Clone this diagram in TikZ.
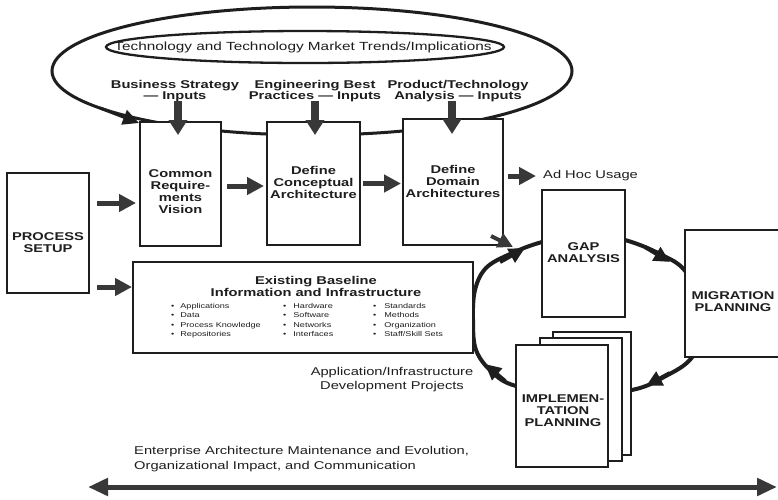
\documentclass[tikz,border=0pt]{standalone}
\usepackage{fontspec}
\setmainfont{Liberation Sans}[FakeStretch=1.3]
\usetikzlibrary{arrows.meta,calc}
\definecolor{ink}{HTML}{1E1E1E}
\definecolor{arrc}{HTML}{383838}
\begin{document}
\begin{tikzpicture}[x=1pt,y=-1pt,
 box/.style={draw=ink,line width=1.8pt,fill=white,inner sep=0pt,outer sep=0pt,anchor=north west},
 pagebox/.style={draw=ink,line width=1.4pt,fill=white,inner sep=0pt,outer sep=0pt,anchor=north west},
 lbl/.style={text=ink,font=\bfseries\fontsize{11.3}{12}\selectfont,align=center,inner sep=0pt},
 inp/.style={text=ink,font=\bfseries\fontsize{11.3}{11.2}\selectfont,align=center,inner sep=0pt},
 txt/.style={text=ink,font=\fontsize{11.3}{14}\selectfont,align=center,inner sep=0pt},
 items/.style={text=ink,font=\fontsize{7}{9.5}\selectfont,align=left,inner sep=0pt,anchor=north west},
 fat/.style={draw=arrc,line width=5pt,-{Triangle[length=17pt,width=17pt]}},
 fatv/.style={draw=arrc,line width=8pt,-{Triangle[length=15pt,width=18pt]}},
 ring/.style={draw=ink,line width=4pt},
 ringtip/.style={draw=ink,line width=4pt,-{Triangle[length=16pt,width=15pt]}},
 dbl/.style={draw=arrc,line width=5pt,{Triangle[length=20pt,width=17pt]}-{Triangle[length=20pt,width=17pt]}},
]
\useasboundingbox (0,0) rectangle (778,499);
\clip (0,0) rectangle (778,499);
\fill[white] (0,0) rectangle (778,499);

% big ellipse and inner ellipse
\draw[draw=ink,line width=3pt] (312,71) ellipse [x radius=260pt, y radius=64pt];
\draw[draw=ink,line width=2.3pt] (305,47) ellipse [x radius=199pt, y radius=16pt];
\node[txt,font=\fontsize{11.8}{13}\selectfont] (trends) at (303,47) {Technology and Technology Market Trends/Implications};

% cycle ring
\draw[ring] plot[smooth cycle, tension=0.6] coordinates {(542,242) (510,254) (486,268) (475,290) (473,320) (476,350) (492,372) (516,386) (575,396) (632,390) (664,377) (693,356) (706,315) (686,272) (660,254) (625,240) (585,233)};

% boxes
\node[box,minimum width=82pt,minimum height=120pt] (setup) at (7,173) {};
\node[lbl] (setupt) at (48,243) {PROCESS\\SETUP};
\node[box,minimum width=81pt,minimum height=124pt] (common) at (140,122) {};
\node[lbl] (commont) at (180.5,192) {Common\\Require-\\ments\\Vision};
\node[box,minimum width=93pt,minimum height=123pt] (concept) at (267,122) {};
\node[lbl] (conceptt) at (313.5,182) {Define\\Conceptual\\Architecture};
\node[box,minimum width=100pt,minimum height=126pt] (domain) at (403,119) {};
\node[lbl] (domaint) at (453,181) {Define\\Domain\\Architectures};

\node[box,minimum width=340pt,minimum height=91pt] (base) at (133,262) {};
\node[lbl] (baset) at (316,286) {Existing Baseline\\Information and Infrastructure};
\node[items] (col1) at (171,303) {•\hspace{6pt}Applications\\•\hspace{6pt}Data\\•\hspace{6pt}Process Knowledge\\•\hspace{6pt}Repositories};
\node[items] (col2) at (283,303) {•\hspace{7pt}Hardware\\•\hspace{7pt}Software\\•\hspace{7pt}Networks\\•\hspace{7pt}Interfaces};
\node[items] (col3) at (373,303) {•\hspace{8pt}Standards\\•\hspace{8pt}Methods\\•\hspace{8pt}Organization\\•\hspace{8pt}Staff/Skill Sets};

\node[box,minimum width=83pt,minimum height=127pt] (gap) at (542,190) {};
\node[lbl] (gapt) at (583.5,253) {GAP\\ANALYSIS};
\node[box,minimum width=120pt,minimum height=127pt] (migr) at (685,230) {};
\node[lbl] (migrt) at (733,302) {MIGRATION\\PLANNING};
\node[pagebox,minimum width=78pt,minimum height=123pt] (impl3) at (553,332) {};
\node[pagebox,minimum width=82pt,minimum height=123pt] (impl2) at (540,338) {};
\node[box,minimum width=92pt,minimum height=122pt] (impl) at (516,345) {};
\node[lbl] (implt) at (563,411) {IMPLEMEN-\\TATION\\PLANNING};

% labels
\node[inp] (bsin) at (175,91) {Business Strategy\\— Inputs};
\node[inp] (engin) at (315,91) {Engineering Best\\Practices — Inputs};
\node[inp] (prodin) at (458,91) {Product/Technology\\Analysis — Inputs};
\node[txt,anchor=west] (adhoc) at (543,176) {Ad Hoc Usage};
\node[txt] (appdev) at (392,380) {Application/Infrastructure\\Development Projects};
\node[txt,anchor=west,align=left,font=\fontsize{11.3}{15}\selectfont] (maint) at (134,459) {Enterprise Architecture Maintenance and Evolution,\\Organizational Impact, and Communication};

% arrows between boxes
\draw[fat] ($(setup.east)+(8,-30)$) -- ($(setup.east -| common.west)+(-4,-30)$);
\draw[fat] ($(setup.east)+(8,54)$) -- ($(setup.east -| base.west)+(-1,54)$);
\draw[fat] ($(common.east)+(6,2)$) -- ($(common.east -| concept.west)+(-3,2)$);
\draw[fat] ($(concept.east)+(3,0)$) -- ($(concept.east -| domain.west)+(-2,0)$);
\draw[fat] ($(domain.east |- adhoc.west)+(5,0)$) -- ($(adhoc.west)+(-7,0)$);

% input arrows
\draw[fatv] ($(bsin.south)+(3,-1)$) -- ($(bsin.south |- common.north)+(3,13)$);
\draw[fatv] ($(engin.south)+(0,-1)$) -- ($(engin.south |- concept.north)+(0,13)$);
\draw[fatv] ($(prodin.south)+(-6,-1)$) -- ($(prodin.south |- domain.north)+(-6,15)$);

% ellipse arrow into Common box
\coordinate (ellL) at (100,108);
\draw[ringtip,line width=3pt] (ellL) -- ($(common.north west)+(-1,1)$);

% ring arrowheads
\draw[ringtip] (645,247) -- (670,262);
\draw[ringtip] (670,373) -- (646,386);
\draw[ringtip] (505,381) -- (485,364);
\draw[ringtip] (500,262) -- (525,248);
\draw[draw=arrc,line width=4pt,-{Triangle[length=15pt,width=15pt]}] ($(domain.south east)+(-12,-9)$) -- ($(domain.south east)+(10,2)$);

% bottom double arrow
\coordinate (bl) at (88,487);
\coordinate (br) at (777,487);
\draw[dbl] (bl) -- (br);
\end{tikzpicture}
\end{document}
